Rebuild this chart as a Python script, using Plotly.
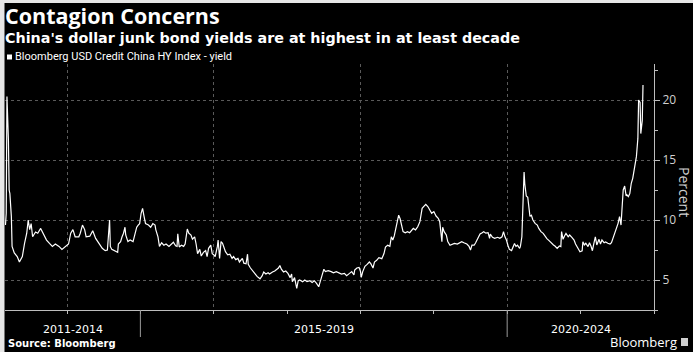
import pandas as pd
import plotly.graph_objects as go

# ---- data ----
dates_dec = [
    2013.16, 2013.17, 2013.18, 2013.20, 2013.21, 2013.22, 2013.24, 2013.25, 2013.28, 2013.32,
    2013.35, 2013.39, 2013.42, 2013.45, 2013.47, 2013.49, 2013.51, 2013.53, 2013.57, 2013.60,
    2013.64, 2013.67, 2013.72, 2013.76, 2013.80, 2013.84, 2013.89, 2013.93, 2013.98, 2014.02,
    2014.05, 2014.08, 2014.11, 2014.16, 2014.18, 2014.21, 2014.24, 2014.26, 2014.31, 2014.35,
    2014.39, 2014.43, 2014.48, 2014.52, 2014.55, 2014.58, 2014.59, 2014.61, 2014.66, 2014.69,
    2014.70, 2014.73, 2014.75, 2014.77, 2014.79, 2014.80, 2014.83, 2014.86, 2014.90, 2014.92,
    2014.95, 2014.97, 2014.99, 2015.01, 2015.03, 2015.05, 2015.07, 2015.11, 2015.14, 2015.17,
    2015.20, 2015.21, 2015.24, 2015.26, 2015.29, 2015.32, 2015.35, 2015.39, 2015.42, 2015.45,
    2015.48, 2015.50, 2015.51, 2015.53, 2015.56, 2015.59, 2015.61, 2015.64, 2015.66, 2015.69,
    2015.71, 2015.74, 2015.76, 2015.78, 2015.81, 2015.83, 2015.86, 2015.89, 2015.91, 2015.93,
    2015.96, 2015.98, 2016.00, 2016.02, 2016.05, 2016.06, 2016.08, 2016.10, 2016.12, 2016.14,
    2016.16, 2016.19, 2016.22, 2016.25, 2016.27, 2016.30, 2016.33, 2016.35, 2016.39, 2016.41,
    2016.44, 2016.46, 2016.47, 2016.50, 2016.53, 2016.56, 2016.59, 2016.63, 2016.66, 2016.68,
    2016.71, 2016.74, 2016.76, 2016.80, 2016.83, 2016.86, 2016.88, 2016.90, 2016.92, 2016.95,
    2016.98, 2017.01, 2017.04, 2017.06, 2017.07, 2017.10, 2017.13, 2017.15, 2017.17, 2017.21,
    2017.24, 2017.27, 2017.31, 2017.34, 2017.37, 2017.40, 2017.43, 2017.45, 2017.48, 2017.50,
    2017.52, 2017.56, 2017.60, 2017.63, 2017.67, 2017.71, 2017.74, 2017.78, 2017.81, 2017.85,
    2017.88, 2017.91, 2017.92, 2017.95, 2017.98, 2018.00, 2018.01, 2018.03, 2018.06, 2018.09,
    2018.12, 2018.14, 2018.17, 2018.19, 2018.22, 2018.25, 2018.29, 2018.32, 2018.34, 2018.37,
    2018.40, 2018.42, 2018.44, 2018.46, 2018.48, 2018.50, 2018.52, 2018.54, 2018.56, 2018.58,
    2018.61, 2018.64, 2018.67, 2018.70, 2018.72, 2018.75, 2018.78, 2018.81, 2018.82, 2018.84,
    2018.87, 2018.89, 2018.92, 2018.95, 2018.97, 2019.00, 2019.03, 2019.06, 2019.08, 2019.09,
    2019.11, 2019.12, 2019.14, 2019.17, 2019.19, 2019.22, 2019.25, 2019.28, 2019.32, 2019.36,
    2019.38, 2019.41, 2019.45, 2019.48, 2019.50, 2019.52, 2019.55, 2019.57, 2019.60, 2019.63,
    2019.66, 2019.68, 2019.71, 2019.74, 2019.76, 2019.77, 2019.80, 2019.83, 2019.87, 2019.90,
    2019.93, 2019.95, 2019.97, 2019.99, 2020.01, 2020.03, 2020.06, 2020.08, 2020.10, 2020.12,
    2020.14, 2020.17, 2020.18, 2020.20, 2020.21, 2020.23, 2020.24, 2020.26, 2020.28, 2020.29,
    2020.31, 2020.33, 2020.35, 2020.38, 2020.41, 2020.43, 2020.46, 2020.49, 2020.52, 2020.54,
    2020.57, 2020.60, 2020.63, 2020.65, 2020.68, 2020.71, 2020.73, 2020.74, 2020.76, 2020.78,
    2020.80, 2020.83, 2020.85, 2020.88, 2020.91, 2020.93, 2020.96, 2020.99, 2021.02, 2021.03,
    2021.05, 2021.07, 2021.10, 2021.12, 2021.14, 2021.16, 2021.18, 2021.20, 2021.22, 2021.24,
    2021.25, 2021.27, 2021.29, 2021.32, 2021.34, 2021.37, 2021.40, 2021.42, 2021.44, 2021.46,
    2021.48, 2021.51, 2021.53, 2021.55, 2021.56, 2021.58, 2021.60, 2021.62, 2021.63, 2021.65,
    2021.67, 2021.69, 2021.71, 2021.73, 2021.74, 2021.76, 2021.78, 2021.79, 2021.81, 2021.82,
    2021.84, 2021.85,
]
yield_pct = [
    9.58, 10.56, 20.3, 16.7, 12.5, 12.2, 10.3, 7.8, 7.25, 6.95,
    6.5, 6.95, 8.05, 8.9, 10.0, 9.2, 9.7, 8.6, 9.0, 8.9,
    9.3, 8.9, 8.33, 8.05, 7.8, 8.0, 7.8, 7.55, 7.8, 8.0,
    8.9, 9.2, 8.6, 8.6, 8.9, 9.58, 9.2, 8.6, 8.65, 9.1,
    8.47, 8.05, 7.64, 7.45, 7.5, 10.0, 7.8, 7.55, 7.36, 7.3,
    8.0, 8.2, 8.6, 8.9, 9.4, 8.75, 8.2, 8.33, 8.2, 8.6,
    9.4, 9.58, 9.7, 10.56, 10.97, 10.3, 9.7, 9.58, 9.4, 9.7,
    9.58, 9.2, 8.6, 7.8, 8.1, 7.9, 8.0, 7.8, 8.0, 8.15,
    7.85, 7.8, 8.85, 7.75, 7.9, 7.8, 8.0, 9.25, 8.9, 8.75,
    8.4, 8.6, 8.0, 7.2, 7.55, 7.0, 7.3, 7.45, 6.95, 7.64,
    7.9, 7.2, 7.1, 6.95, 7.8, 8.33, 6.8, 8.2, 8.05, 7.64,
    7.36, 7.1, 7.15, 6.8, 6.95, 6.7, 6.8, 6.5, 6.8, 6.4,
    6.35, 7.15, 6.3, 6.0, 5.75, 5.55, 5.3, 5.1, 5.36, 5.67,
    5.5, 5.6, 5.5, 5.67, 5.75, 5.9, 6.0, 6.2, 5.9, 5.67,
    5.75, 5.55, 5.2, 5.5, 4.86, 5.2, 4.3, 4.94, 5.0, 4.86,
    5.0, 4.86, 4.94, 4.8, 4.94, 4.72, 4.44, 4.86, 5.42, 5.9,
    5.7, 5.78, 5.7, 5.6, 5.7, 5.55, 5.5, 5.55, 5.36, 5.55,
    5.7, 5.42, 5.83, 6.0, 6.05, 5.7, 5.22, 5.7, 6.14, 6.3,
    6.5, 6.36, 6.0, 6.5, 6.64, 6.86, 6.78, 7.2, 7.75, 7.9,
    7.8, 8.6, 8.33, 8.67, 9.17, 9.86, 10.4, 10.1, 9.58, 9.03,
    8.94, 9.03, 8.94, 9.17, 9.3, 9.17, 9.44, 9.86, 10.2, 10.97,
    11.17, 11.3, 11.1, 10.8, 10.56, 10.7, 10.33, 10.14, 9.86, 9.3,
    8.2, 9.4, 9.03, 8.75, 8.2, 7.9, 8.0, 8.05, 8.0, 8.16,
    8.2, 8.1, 8.0, 7.8, 7.5, 7.9, 7.9, 8.1, 8.47, 8.83,
    8.94, 9.03, 8.9, 8.94, 8.47, 8.83, 8.56, 8.47, 8.56, 8.47,
    8.6, 9.03, 8.6, 8.33, 7.9, 7.55, 7.45, 7.8, 8.05, 7.8,
    7.9, 7.64, 7.8, 8.6, 11.1, 14.0, 13.0, 12.0, 11.9, 11.2,
    10.3, 10.4, 10.0, 9.72, 9.58, 9.3, 9.03, 8.89, 8.6, 8.45,
    8.28, 8.06, 7.92, 7.83, 7.64, 7.83, 7.78, 9.03, 8.39, 8.67,
    8.89, 8.6, 8.75, 8.55, 8.33, 8.0, 7.64, 7.36, 7.44, 8.19,
    7.92, 8.06, 7.78, 8.11, 7.83, 7.44, 8.06, 8.6, 7.92, 8.19,
    8.39, 8.0, 8.33, 8.11, 8.17, 8.06, 8.0, 8.11, 8.47, 8.89,
    9.17, 9.72, 10.28, 9.58, 10.56, 12.5, 12.83, 12.0, 12.1, 11.94,
    12.2, 13.06, 13.47, 14.3, 14.67, 15.28, 16.8, 20.0, 19.8, 17.2,
    18.3, 21.25,
]
period_labels = ["2011-2014", "2015-2019", "2020-2024"]
period_bounds = ["2013-02-26", "2015-01-01", "2020-01-01", "2022-01-01"]
y_ticks = [5, 10, 15, 20]

title = "Contagion Concerns"
subtitle = "China's dollar junk bond yields are at highest in at least decade"
legend_name = "Bloomberg USD Credit China HY Index - yield"
source = "Source: Bloomberg"


def dec_to_ts(d):
    y = int(d)
    start = pd.Timestamp(year=y, month=1, day=1)
    end = pd.Timestamp(year=y + 1, month=1, day=1)
    return start + (end - start) * (d - y)


dates = [dec_to_ts(d) for d in dates_dec]

W, H = 693, 352
L, R, T, B = 5, 39, 64, 42
PW, PH = W - L - R, H - T - B


def px_x(x):
    return (x - L) / PW


def px_y(y):
    return (H - B - y) / PH


fig = go.Figure()
fig.add_trace(go.Scatter(
    x=dates, y=yield_pct, mode="lines",
    line=dict(color="#ffffff", width=1.2),
    name=legend_name, showlegend=False, hoverinfo="skip",
))

grid_col = "#5a5a5a"
axis_col = "#bdbdbd"

fig.update_layout(
    width=W, height=H,
    margin=dict(l=L, r=R, t=T, b=B, pad=0),
    paper_bgcolor="#000000", plot_bgcolor="#000000",
    font=dict(family="Open Sans", color="#ffffff"),
    xaxis=dict(
        type="date",
        range=[period_bounds[0], period_bounds[-1]],
        showgrid=True, gridcolor=grid_col, griddash="dot", gridwidth=1,
        dtick="M24", tick0="2014-01-01",
        ticks="outside", ticklen=3, tickcolor=axis_col,
        showticklabels=False,
        showline=True, linecolor=axis_col, linewidth=1,
        zeroline=False,
        minor=dict(dtick="M12", tick0="2013-01-01", ticks="outside", ticklen=3,
                   tickcolor=axis_col, showgrid=False),
    ),
    yaxis=dict(
        side="right",
        range=[2.5, 23],
        tickvals=y_ticks,
        showgrid=True, gridcolor=grid_col, griddash="dot", gridwidth=1,
        ticks="outside", ticklen=5, tickcolor=axis_col,
        tickfont=dict(family="Open Sans", size=12, color="#d0d0d0"),
        showline=True, linecolor=axis_col, linewidth=1,
        zeroline=False,
        minor=dict(dtick=2.5, tick0=0, ticks="outside", ticklen=3,
                   tickcolor=axis_col, showgrid=False),
    ),
)

shapes = []
annotations = []

# light border strips of the original image
shapes.append(dict(type="rect", xref="paper", yref="paper",
                   x0=px_x(0), x1=px_x(4.5), y0=px_y(H), y1=px_y(0),
                   fillcolor="#e6e6e6", line=dict(width=0), layer="above"))
shapes.append(dict(type="rect", xref="paper", yref="paper",
                   x0=px_x(0), x1=px_x(W), y0=px_y(3), y1=px_y(0),
                   fillcolor="#e6e6e6", line=dict(width=0), layer="above"))

# period separators below the axis
for b in period_bounds[1:-1]:
    shapes.append(dict(type="line", xref="x", yref="paper",
                       x0=b, x1=b, y0=0, y1=px_y(337),
                       line=dict(color="#9a9a9a", width=1)))

# period labels
for i, lab in enumerate(period_labels):
    a = pd.Timestamp(period_bounds[i])
    b = pd.Timestamp(period_bounds[i + 1])
    mid = a + (b - a) / 2
    annotations.append(dict(x=mid, y=px_y(329), xref="x", yref="paper",
                            text=lab, showarrow=False,
                            font=dict(family="DejaVu Sans", size=11, color="#ffffff"),
                            xanchor="center", yanchor="middle"))

# titles
annotations.append(dict(x=px_x(4), y=px_y(15.5), xref="paper", yref="paper",
                        text="<b>" + title + "</b>", showarrow=False, borderpad=0,
                        font=dict(family="Open Sans", size=21.5, color="#ffffff"),
                        xanchor="left", yanchor="middle"))
annotations.append(dict(x=px_x(4), y=px_y(38.5), xref="paper", yref="paper",
                        text="<b>" + subtitle + "</b>", showarrow=False, borderpad=0,
                        font=dict(family="DejaVu Sans", size=14.3, color="#ffffff"),
                        xanchor="left", yanchor="middle"))

# legend
shapes.append(dict(type="rect", xref="paper", yref="paper",
                   x0=px_x(7), x1=px_x(12), y0=px_y(59.5), y1=px_y(54.5),
                   fillcolor="#ffffff", line=dict(width=0)))
annotations.append(dict(x=px_x(13), y=px_y(57), xref="paper", yref="paper",
                        text=legend_name, showarrow=False,
                        font=dict(family="Roboto", size=11, color="#ffffff"),
                        xanchor="left", yanchor="middle"))

# y axis title
annotations.append(dict(x=px_x(685), y=px_y(192), xref="paper", yref="paper",
                        text="Percent", showarrow=False, textangle=90,
                        font=dict(family="Open Sans", size=14, color="#d0d0d0"),
                        xanchor="center", yanchor="middle"))

# footer
annotations.append(dict(x=px_x(7), y=px_y(343), xref="paper", yref="paper",
                        text="<b>" + source + "</b>", showarrow=False, borderpad=0,
                        font=dict(family="DejaVu Sans", size=10, color="#ffffff"),
                        xanchor="left", yanchor="middle"))
annotations.append(dict(x=px_x(678), y=px_y(342), xref="paper", yref="paper",
                        text="Bloomberg", showarrow=False, borderpad=0,
                        font=dict(family="Open Sans", size=13, color="#ffffff"),
                        xanchor="right", yanchor="middle"))
shapes.append(dict(type="rect", xref="paper", yref="paper",
                   x0=px_x(681), x1=px_x(688), y0=px_y(346), y1=px_y(338),
                   fillcolor="#cfcfcf", line=dict(width=0)))

fig.update_layout(shapes=shapes, annotations=annotations)

fig.write_html("out.html")
